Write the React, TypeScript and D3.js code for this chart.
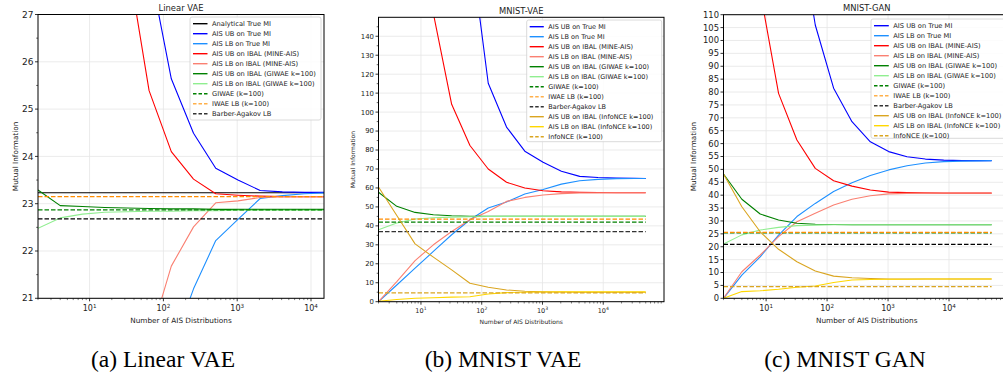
import React, { useRef, useEffect } from "react";
import * as d3 from "d3";

// x values (number of AIS distributions)
const xsLinear = [2, 4, 8, 16, 32, 64, 128, 256, 512, 1024, 2048, 4096, 8192, 16384];
const xsMnist = [2, 4, 8, 16, 32, 64, 128, 256, 512, 1024, 2048, 4096, 8192, 16384, 32768, 50000];

// (a) Linear VAE
const linTrueMI = 23.23;
const linUbTrue = [200, 120, 80, 50, 36, 28.05, 25.64, 24.49, 23.75, 23.5, 23.28, 23.25, 23.24, 23.24];
const linLbTrue = [5, 10, 13, 15.5, 17, 18.5, 19.9, 21.2, 22.22, 22.67, 23.11, 23.17, 23.21, 23.23];
const linUbMine = [120, 70, 45, 33, 28.25, 25.39, 24.1, 23.52, 23.21, 23.18, 23.16, 23.15, 23.15, 23.15];
const linLbMine = [10, 13, 15.5, 17.5, 19, 20.1, 21.68, 22.51, 23.02, 23.06, 23.13, 23.15, 23.15, 23.15];
const linUbGiwae = [23.29, 22.96, 22.94, 22.92, 22.91, 22.9, 22.89, 22.89, 22.88, 22.88, 22.88, 22.88, 22.88, 22.88];
const linLbGiwae = [22.48, 22.7, 22.78, 22.82, 22.83, 22.84, 22.84, 22.85, 22.85, 22.86, 22.86, 22.86, 22.86, 22.86];
const linGiwae = 22.87;
const linIwae = 23.15;
const linBarber = 22.68;

// (b) MNIST VAE
const vaeUbTrue = [900, 600, 400, 280, 220, 190, 115.2, 92.1, 79.4, 73.5, 68.8, 66.1, 65.5, 65.2, 65.1, 65.0];
const vaeLbTrue = [0, 8.8, 17.7, 26.5, 35.3, 43.2, 49.4, 52.6, 56.8, 59.2, 62.0, 63.8, 64.5, 64.9, 65.0, 65.0];
const vaeUbMine = [500, 350, 220, 152, 104.1, 82.4, 70.0, 63.0, 60.0, 58.5, 57.9, 57.7, 57.6, 57.5, 57.5, 57.5];
const vaeLbMine = [0, 10.6, 21.7, 30.0, 37.0, 43.2, 47.6, 52.9, 55.0, 56.3, 57.0, 57.3, 57.4, 57.5, 57.5, 57.5];
const vaeUbGiwae = [57.7, 50.3, 47.1, 45.9, 45.3, 45.1, 45.0, 45.0, 45.0, 45.0, 45.0, 45.0, 45.0, 45.0, 45.0, 45.0];
const vaeLbGiwae = [37.9, 41.5, 43.6, 44.3, 44.6, 44.8, 44.9, 45.0, 45.0, 45.0, 45.0, 45.0, 45.0, 45.0, 45.0, 45.0];
const vaeUbNce = [60.5, 45.5, 30.5, 23.5, 16.8, 9.7, 7.6, 6.2, 5.5, 5.2, 5.1, 5.0, 5.0, 5.0, 5.0, 5.0];
const vaeLbNce = [0.2, 1.2, 1.8, 2.1, 2.4, 2.6, 4.1, 4.8, 5.0, 5.1, 5.2, 5.2, 5.2, 5.2, 5.2, 5.2];
const vaeGiwae = 42.0;
const vaeIwae = 43.6;
const vaeBarber = 37.0;
const vaeNce = 4.7;

// (c) MNIST GAN
const ganUbTrue = [900, 500, 300, 200, 150, 106, 81.5, 68.5, 60.7, 56.9, 54.9, 54.0, 53.6, 53.4, 53.4, 53.4];
const ganLbTrue = [0, 9.0, 16.1, 24.5, 31.7, 36.8, 41.4, 44.8, 47.6, 49.8, 51.4, 52.5, 53.0, 53.2, 53.3, 53.4];
const ganUbMine = [300, 200, 119, 79.5, 61.4, 50.4, 45.6, 43.5, 42.0, 41.2, 41.0, 40.9, 40.8, 40.8, 40.8, 40.8];
const ganLbMine = [0, 10.3, 16.8, 23.9, 29.7, 33.0, 36.2, 38.4, 39.8, 40.5, 40.7, 40.8, 40.8, 40.8, 40.8, 40.8];
const ganUbGiwae = [48.2, 38.4, 32.7, 30.4, 29.1, 28.7, 28.6, 28.5, 28.5, 28.5, 28.5, 28.5, 28.5, 28.5, 28.5, 28.5];
const ganLbGiwae = [21.1, 24.6, 26.5, 27.5, 28.2, 28.4, 28.5, 28.5, 28.5, 28.5, 28.5, 28.5, 28.5, 28.5, 28.5, 28.5];
const ganUbNce = [48.2, 35.5, 25.8, 19.0, 14.2, 10.6, 8.6, 8.0, 7.7, 7.5, 7.5, 7.5, 7.5, 7.5, 7.5, 7.5];
const ganLbNce = [0, 2.6, 2.9, 3.5, 4.3, 4.8, 6.1, 7.1, 7.3, 7.4, 7.4, 7.5, 7.5, 7.5, 7.5, 7.5];
const ganGiwae = 25.4;
const ganIwae = 25.6;
const ganBarber = 20.9;
const ganNce = 4.5;

const C = {
    black: "#000000",
    blue: "#0000ff",
    lblue: "#1e90ff",
    red: "#ff0000",
    salmon: "#fa8072",
    green: "#008000",
    lgreen: "#90ee90",
    orange: "#ff8c00",
    gold: "#daa520",
    yellow: "#ffd700",
};

interface Series {
    label: string;
    color: string;
    values?: number[];
    constant?: number;
    dashed?: boolean;
    legendColor?: string;
}

interface PanelCfg {
    id: string;
    title: string;
    caption: string;
    captionX: number;
    xs: number[];
    xDomain: [number, number];
    xLabels: number[];
    yDomain: [number, number];
    yTicks: number[];
    yMinor: number[];
    box: { l: number; t: number; r: number; b: number };
    yFont: number;
    xFont: number;
    labelFont: number;
    xLabelY: number;
    xTickY: number;
    yLabelX: number;
    legend: { x: number; y: number; w: number; h: number; font: number; textX: number };
    series: Series[];
}

const panels: PanelCfg[] = [
    {
        id: "a",
        title: "Linear VAE",
        caption: "(a) Linear VAE",
        captionX: 163,
        xs: xsLinear,
        xDomain: [2, 15000],
        xLabels: [10, 100, 1000, 10000],
        yDomain: [21, 27],
        yTicks: d3.range(21, 28, 1),
        yMinor: d3.range(21.5, 27, 1),
        box: { l: 38, t: 14.5, r: 324, b: 298.3 },
        yFont: 9,
        xFont: 8,
        labelFont: 7.3,
        xLabelY: 323,
        xTickY: 311,
        yLabelX: 15,
        legend: { x: 190, y: 17, w: 131, h: 103, font: 6.7, textX: 212 },
        series: [
            { label: "Analytical True MI", color: C.black, constant: linTrueMI },
            { label: "AIS UB on True MI", color: C.blue, values: linUbTrue },
            { label: "AIS LB on True MI", color: C.lblue, values: linLbTrue },
            { label: "AIS UB on IBAL (MINE-AIS)", color: C.red, values: linUbMine },
            { label: "AIS LB on IBAL (MINE-AIS)", color: C.salmon, values: linLbMine },
            { label: "AIS UB on IBAL (GIWAE k=100)", color: C.green, values: linUbGiwae },
            { label: "AIS LB on IBAL (GIWAE k=100)", color: C.lgreen, values: linLbGiwae },
            { label: "GIWAE (k=100)", color: C.green, constant: linGiwae, dashed: true },
            { label: "IWAE LB (k=100)", color: C.orange, constant: linIwae, dashed: true, legendColor: "#ffb04a" },
            { label: "Barber-Agakov LB", color: C.black, constant: linBarber, dashed: true, legendColor: "#333" },
        ],
    },
    {
        id: "b",
        title: "MNIST-VAE",
        caption: "(b) MNIST VAE",
        captionX: 503,
        xs: xsMnist,
        xDomain: [2, 100000],
        xLabels: [10, 100, 1000, 10000],
        yDomain: [0, 150],
        yTicks: d3.range(0, 150, 10),
        yMinor: d3.range(5, 150, 10),
        box: { l: 378.5, t: 17.3, r: 664, b: 301.7 },
        yFont: 6.9,
        xFont: 6.5,
        labelFont: 6,
        xLabelY: 324,
        xTickY: 313,
        yLabelX: 353,
        legend: { x: 526.7, y: 20, w: 135, h: 121.7, font: 6.5, textX: 548.3 },
        series: [
            { label: "AIS UB on True MI", color: C.blue, values: vaeUbTrue },
            { label: "AIS LB on True MI", color: C.lblue, values: vaeLbTrue },
            { label: "AIS UB on IBAL (MINE-AIS)", color: C.red, values: vaeUbMine },
            { label: "AIS LB on IBAL (MINE-AIS)", color: C.salmon, values: vaeLbMine },
            { label: "AIS UB on IBAL (GIWAE k=100)", color: C.green, values: vaeUbGiwae },
            { label: "AIS LB on IBAL (GIWAE k=100)", color: C.lgreen, values: vaeLbGiwae },
            { label: "GIWAE (k=100)", color: C.green, constant: vaeGiwae, dashed: true },
            { label: "IWAE LB (k=100)", color: C.orange, constant: vaeIwae, dashed: true, legendColor: "#ffb04a" },
            { label: "Barber-Agakov LB", color: "#333", constant: vaeBarber, dashed: true },
            { label: "AIS UB on IBAL (InfoNCE k=100)", color: C.gold, values: vaeUbNce },
            { label: "AIS LB on IBAL (InfoNCE k=100)", color: C.yellow, values: vaeLbNce },
            { label: "InfoNCE (k=100)", color: C.gold, constant: vaeNce, dashed: true },
        ],
    },
    {
        id: "c",
        title: "MNIST-GAN",
        caption: "(c) MNIST GAN",
        captionX: 845,
        xs: xsMnist,
        xDomain: [2, 100000],
        xLabels: [10, 100, 1000, 10000],
        yDomain: [0, 110],
        yTicks: d3.range(0, 111, 5),
        yMinor: [],
        box: { l: 723.5, t: 14.7, r: 1010, b: 298.3 },
        yFont: 8.4,
        xFont: 8,
        labelFont: 7.3,
        xLabelY: 323,
        xTickY: 311,
        yLabelX: 693,
        legend: { x: 871, y: 19, w: 140, h: 119.3, font: 6.7, textX: 893.3 },
        series: [
            { label: "AIS UB on True MI", color: C.blue, values: ganUbTrue },
            { label: "AIS LB on True MI", color: C.lblue, values: ganLbTrue },
            { label: "AIS UB on IBAL (MINE-AIS)", color: C.red, values: ganUbMine },
            { label: "AIS LB on IBAL (MINE-AIS)", color: C.salmon, values: ganLbMine },
            { label: "AIS UB on IBAL (GIWAE k=100)", color: C.green, values: ganUbGiwae },
            { label: "AIS LB on IBAL (GIWAE k=100)", color: C.lgreen, values: ganLbGiwae },
            { label: "GIWAE (k=100)", color: C.green, constant: ganGiwae, dashed: true },
            { label: "IWAE LB (k=100)", color: C.orange, constant: ganIwae, dashed: true, legendColor: "#ffb04a" },
            { label: "Barber-Agakov LB", color: C.black, constant: ganBarber, dashed: true, legendColor: "#333" },
            { label: "AIS UB on IBAL (InfoNCE k=100)", color: C.gold, values: ganUbNce },
            { label: "AIS LB on IBAL (InfoNCE k=100)", color: C.yellow, values: ganLbNce },
            { label: "InfoNCE (k=100)", color: C.gold, constant: ganNce, dashed: true },
        ],
    },
];

const FONT = "'DejaVu Sans', sans-serif";

const App: React.FC = () => {
    const svgRef = useRef<SVGSVGElement | null>(null);

    useEffect(() => {
        if (!svgRef.current) return;
        const svg = d3.select(svgRef.current);
        svg.selectAll("*").remove();

        panels.forEach((p) => {
            const { l, t, r, b } = p.box;
            const x = d3.scaleLog().domain(p.xDomain).range([l, r]);
            const y = d3.scaleLinear().domain(p.yDomain).range([b, t]);
            const g = svg.append("g");

            g.append("clipPath")
                .attr("id", `clip-${p.id}`)
                .append("rect")
                .attr("x", l)
                .attr("y", t)
                .attr("width", r - l)
                .attr("height", b - t);

            // grid
            const majorX = p.xLabels;
            g.selectAll(".gx")
                .data(majorX)
                .enter()
                .append("line")
                .attr("x1", (d) => x(d))
                .attr("x2", (d) => x(d))
                .attr("y1", t)
                .attr("y2", b)
                .attr("stroke", "#e6e6e6")
                .attr("stroke-width", 0.8);
            g.selectAll(".gy")
                .data(p.yTicks)
                .enter()
                .append("line")
                .attr("x1", l)
                .attr("x2", r)
                .attr("y1", (d) => y(d))
                .attr("y2", (d) => y(d))
                .attr("stroke", "#e6e6e6")
                .attr("stroke-width", 0.8);

            // data
            const plot = g.append("g").attr("clip-path", `url(#clip-${p.id})`);
            const lineGen = d3
                .line<number>()
                .x((_, i) => x(p.xs[i]))
                .y((d) => y(d));
            p.series.forEach((s) => {
                const vals = s.values ?? p.xs.map(() => s.constant as number);
                plot.append("path")
                    .datum(vals)
                    .attr("d", lineGen)
                    .attr("fill", "none")
                    .attr("stroke", s.color)
                    .attr("stroke-width", s.dashed ? 1.3 : 1.1)
                    .attr("stroke-dasharray", s.dashed ? "4.5,2" : null)
                    .attr("stroke-linejoin", "round");
            });

            // axes frame
            g.append("rect")
                .attr("x", l)
                .attr("y", t)
                .attr("width", r - l)
                .attr("height", b - t)
                .attr("fill", "none")
                .attr("stroke", "#000")
                .attr("stroke-width", 1);

            // y ticks
            p.yTicks.forEach((v) => {
                g.append("line")
                    .attr("x1", l - 3)
                    .attr("x2", l)
                    .attr("y1", y(v))
                    .attr("y2", y(v))
                    .attr("stroke", "#000")
                    .attr("stroke-width", 0.8);
                g.append("text")
                    .attr("x", l - 4.5)
                    .attr("y", y(v))
                    .attr("dy", "0.35em")
                    .attr("text-anchor", "end")
                    .attr("font-family", FONT)
                    .attr("font-size", p.yFont)
                    .attr("fill", "#222")
                    .text(v);
            });
            p.yMinor.forEach((v) => {
                g.append("line")
                    .attr("x1", l - 1.8)
                    .attr("x2", l)
                    .attr("y1", y(v))
                    .attr("y2", y(v))
                    .attr("stroke", "#000")
                    .attr("stroke-width", 0.6);
            });

            // x ticks (log)
            majorX.forEach((v) => {
                g.append("line")
                    .attr("x1", x(v))
                    .attr("x2", x(v))
                    .attr("y1", b)
                    .attr("y2", b + 3)
                    .attr("stroke", "#000")
                    .attr("stroke-width", 0.8);
                const txt = g
                    .append("text")
                    .attr("x", x(v))
                    .attr("y", p.xTickY)
                    .attr("text-anchor", "middle")
                    .attr("font-family", FONT)
                    .attr("font-size", p.xFont)
                    .attr("fill", "#222");
                txt.append("tspan").text("10");
                txt.append("tspan")
                    .attr("dy", -p.xFont * 0.4)
                    .attr("font-size", p.xFont * 0.7)
                    .text(String(Math.round(Math.log10(v))));
            });
            const minorX: number[] = [];
            for (let e = 0; e < 5; e++) {
                for (let k = 2; k < 10; k++) {
                    const v = k * Math.pow(10, e);
                    if (v >= p.xDomain[0] && v <= p.xDomain[1]) minorX.push(v);
                }
            }
            minorX.forEach((v) => {
                g.append("line")
                    .attr("x1", x(v))
                    .attr("x2", x(v))
                    .attr("y1", b)
                    .attr("y2", b + 1.8)
                    .attr("stroke", "#000")
                    .attr("stroke-width", 0.5);
            });

            // labels
            g.append("text")
                .attr("x", (l + Math.min(r, 1003 + 7)) / 2)
                .attr("y", t - 3.8)
                .attr("text-anchor", "middle")
                .attr("font-family", FONT)
                .attr("font-size", 8.4)
                .attr("fill", "#222")
                .text(p.title);
            g.append("text")
                .attr("x", (l + r) / 2)
                .attr("y", p.xLabelY)
                .attr("text-anchor", "middle")
                .attr("font-family", FONT)
                .attr("font-size", p.labelFont)
                .attr("fill", "#222")
                .text("Number of AIS Distributions");
            g.append("text")
                .attr("transform", `translate(${p.yLabelX},${(t + b) / 2}) rotate(-90)`)
                .attr("text-anchor", "middle")
                .attr("dy", "0.35em")
                .attr("font-family", FONT)
                .attr("font-size", p.labelFont)
                .attr("fill", "#222")
                .text("Mutual Information");

            // legend
            const lg = p.legend;
            g.append("rect")
                .attr("x", lg.x)
                .attr("y", lg.y)
                .attr("width", lg.w)
                .attr("height", lg.h)
                .attr("rx", 2)
                .attr("fill", "rgba(255,255,255,0.85)")
                .attr("stroke", "#d0d0d0")
                .attr("stroke-width", 0.8);
            p.series.forEach((s, i) => {
                const yy = lg.y + 6.7 + i * 10;
                g.append("line")
                    .attr("x1", lg.x + 3)
                    .attr("x2", lg.textX - 4.5)
                    .attr("y1", yy)
                    .attr("y2", yy)
                    .attr("stroke", s.legendColor ?? s.color)
                    .attr("stroke-width", 1.4)
                    .attr("stroke-dasharray", s.dashed ? "3.5,2" : null);
                g.append("text")
                    .attr("x", lg.textX)
                    .attr("y", yy)
                    .attr("dy", "0.35em")
                    .attr("font-family", FONT)
                    .attr("font-size", lg.font)
                    .attr("fill", "#222")
                    .text(s.label);
            });

            // caption
            g.append("text")
                .attr("x", p.captionX)
                .attr("y", 366.5)
                .attr("text-anchor", "middle")
                .attr("font-family", "'Liberation Serif', 'Times New Roman', serif")
                .attr("font-size", 23.5)
                .attr("fill", "#000")
                .text(p.caption);
        });
    }, []);

    return (
        <svg
            ref={svgRef}
            width={1003}
            height={375}
            style={{ position: "absolute", left: 0, top: 0, background: "#fff" }}
        ></svg>
    );
};

export default App;
